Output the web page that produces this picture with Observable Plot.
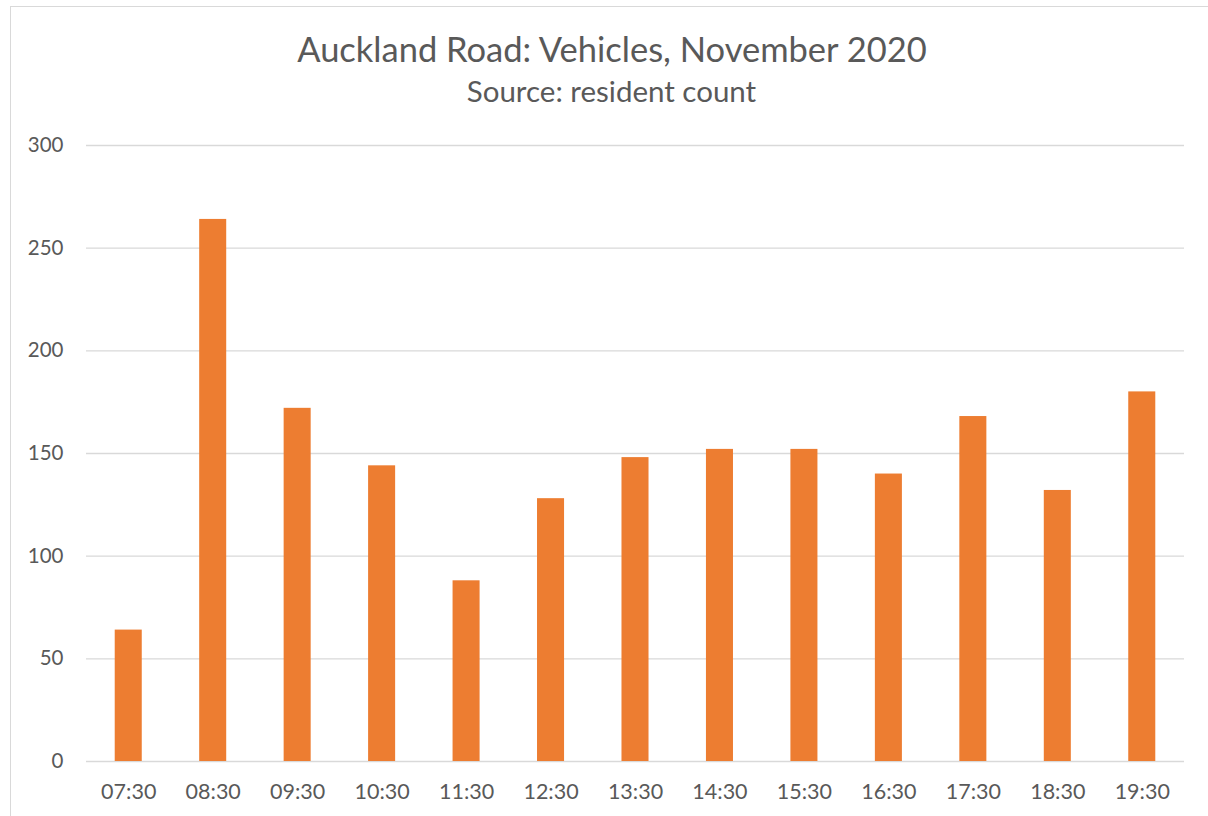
<!DOCTYPE html>
<html>
<head>
<meta charset="utf-8">
<script src="https://cdn.jsdelivr.net/npm/d3@7"></script>
<script src="https://cdn.jsdelivr.net/npm/@observablehq/plot@0.6"></script>
<style>
  html, body { margin: 0; padding: 0; background: #fff; }
  #page { position: relative; width: 1208px; height: 816px; overflow: hidden; font-family: Lato, "Open Sans", sans-serif; }
  #frame { position: absolute; left: 9.5px; top: 5.5px; width: 1300px; height: 900px; border: 1.8px solid #d9d9d9; box-sizing: border-box; pointer-events: none; }
  #header { position: relative; height: 120px; }
  #title { position: absolute; left: 0; width: 1224px; top: 28px; text-align: center; font-size: 34.5px; color: #595959; white-space: nowrap; }
  #subtitle { position: absolute; left: 0; width: 1223px; top: 73px; text-align: center; font-size: 29.5px; color: #595959; white-space: nowrap; }
  #chart svg { display: block; }
</style>
</head>
<body>
<div id="page">
  <div id="frame"></div>
  <div id="header">
    <div id="title"></div>
    <div id="subtitle"></div>
  </div>
  <div id="chart"></div>
</div>
<script>
const titleText = "Auckland Road: Vehicles, November 2020";
const subtitleText = "Source: resident count";
const times = ["07:30","08:30","09:30","10:30","11:30","12:30","13:30","14:30","15:30","16:30","17:30","18:30","19:30"];
const vehicles = [64, 264, 172, 144, 88, 128, 148, 152, 152, 140, 168, 132, 180];
const yTicks = [0, 50, 100, 150, 200, 250, 300];

document.getElementById("title").textContent = titleText;
document.getElementById("subtitle").textContent = subtitleText;

const data = times.map((t, i) => ({time: t, count: vehicles[i]}));

const chart = Plot.plot({
  width: 1208,
  height: 696,
  marginLeft: 86,
  marginRight: 24,
  marginTop: 25,
  marginBottom: 55,
  style: {fontFamily: "Lato, 'Open Sans', sans-serif", fontSize: "21px", color: "#595959", background: "transparent"},
  x: {domain: times, paddingInner: 0.68, paddingOuter: 0.34, round: false, label: null},
  y: {domain: [0, 300], label: null},
  marks: [
    Plot.ruleY(yTicks, {stroke: "#d9d9d9", strokeWidth: 1.4}),
    Plot.barY(data, {x: "time", y: "count", fill: "#ED7D31"}),
    Plot.axisX({tickSize: 0, tickPadding: 22, fill: "#595959", fontSize: 21.5, label: null}),
    Plot.axisY({ticks: yTicks, tickSize: 0, tickPadding: 23, fill: "#595959", fontSize: 20.5, label: null})
  ]
});
document.getElementById("chart").appendChild(chart);
</script>
</body>
</html>
